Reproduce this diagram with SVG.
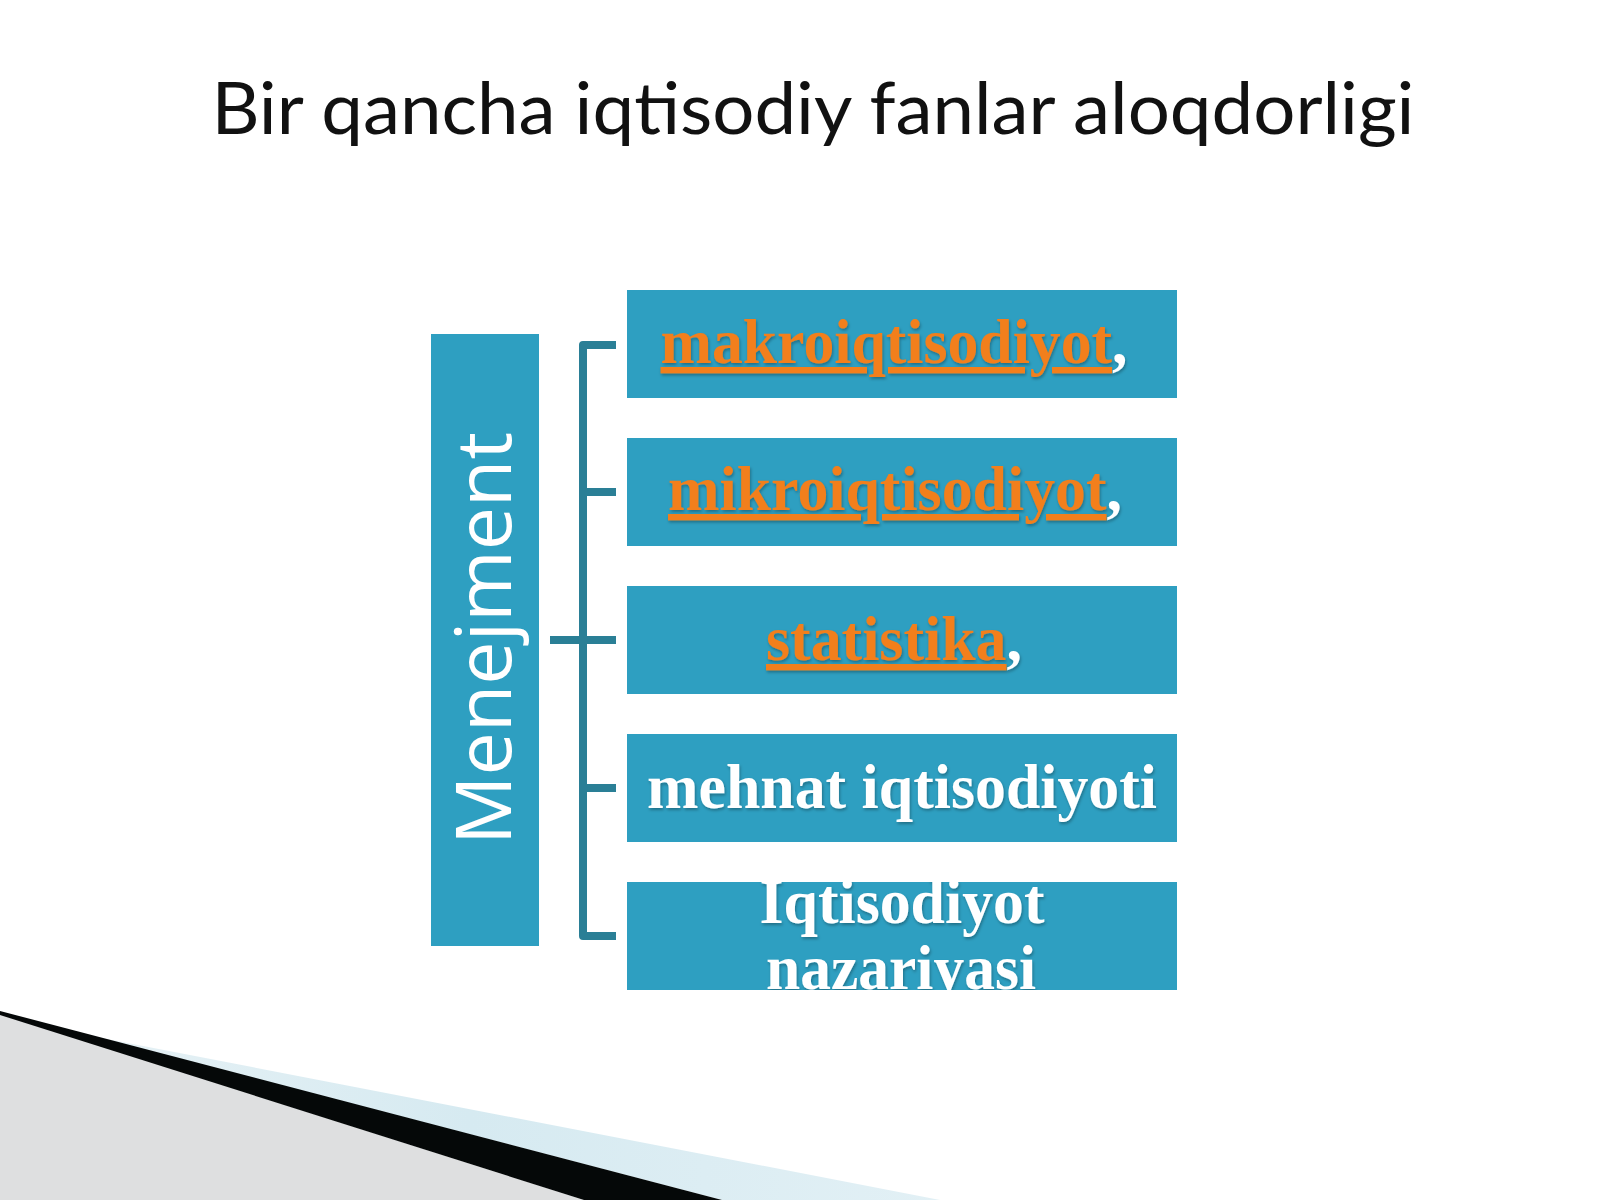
<svg xmlns="http://www.w3.org/2000/svg" width="1600" height="1200" viewBox="0 0 1600 1200">
<style>
.box{fill:#2E9FC1}
.lbl{font-family:"Liberation Serif","Times New Roman",serif;font-weight:bold;font-size:64px;text-anchor:middle;fill:#FFFFFF}
.lnk{fill:#F27F1B;text-decoration:underline}
.conn{fill:none;stroke:#2A7F96;stroke-width:8;stroke-linecap:butt;stroke-linejoin:round}
</style>
<defs>
<filter id="sh" x="-5%" y="-20%" width="110%" height="140%">
<feDropShadow dx="1" dy="2" stdDeviation="1.5" flood-color="#000" flood-opacity="0.3"/>
</filter>
<clipPath id="c5"><rect x="627" y="882" width="550" height="108"/></clipPath>
<linearGradient id="lb" x1="0" y1="0" x2="1" y2="0">
<stop offset="0" stop-color="#EAF3F6"/>
<stop offset="0.5" stop-color="#D6EAF1"/>
<stop offset="1" stop-color="#E2F0F5"/>
</linearGradient>
</defs>
<rect width="1600" height="1200" fill="#FFFFFF"/>

<!-- bottom decoration -->
<polygon points="60,1030 940,1200 722,1200 0,1012" fill="url(#lb)"/>
<polygon points="0,1014 584,1200 0,1200" fill="#DEDFE0"/>
<polygon points="0,1011 722,1200 584,1200 0,1015" fill="#050808"/>

<text x="813" y="134" font-family="Lato,'Open Sans',sans-serif" font-size="72" fill="#111111" text-anchor="middle" textLength="1203" lengthAdjust="spacingAndGlyphs">Bir qancha iqtisodiy fanlar aloqdorligi</text>

<g id="connectors">
<path class="conn" d="M616 345 H583 V936 H616"/>
<path class="conn" d="M583 492 H616"/>
<path class="conn" d="M550 640 H616"/>
<path class="conn" d="M583 788 H616"/>
</g>

<g id="menejment">
<rect class="box" x="431" y="334" width="108" height="612"/>
<text transform="translate(511,638.5) rotate(-90)" x="0" y="0" font-family="'Open Sans',sans-serif" font-size="76" fill="#FFFFFF" text-anchor="middle" textLength="413" lengthAdjust="spacingAndGlyphs">Menejment</text>
</g>

<g id="n1">
<rect class="box" x="627" y="290" width="550" height="108"/>
<text class="lbl" x="894" y="363" textLength="467" lengthAdjust="spacingAndGlyphs" filter="url(#sh)"><tspan class="lnk">makroiqtisodiyot</tspan>,</text>
</g>
<g id="n2">
<rect class="box" x="627" y="438" width="550" height="108"/>
<text class="lbl" x="895" y="510" textLength="454" lengthAdjust="spacingAndGlyphs" filter="url(#sh)"><tspan class="lnk">mikroiqtisodiyot</tspan>,</text>
</g>
<g id="n3">
<rect class="box" x="627" y="586" width="550" height="108"/>
<text class="lbl" x="894" y="660" textLength="256" lengthAdjust="spacingAndGlyphs" filter="url(#sh)"><tspan class="lnk">statistika</tspan>,</text>
</g>
<g id="n4">
<rect class="box" x="627" y="734" width="550" height="108"/>
<text class="lbl" x="902" y="808" textLength="510" lengthAdjust="spacingAndGlyphs" filter="url(#sh)">mehnat iqtisodiyoti</text>
</g>
<g id="n5">
<rect class="box" x="627" y="882" width="550" height="108"/>
<g clip-path="url(#c5)">
<text class="lbl" x="902" y="923" textLength="285" lengthAdjust="spacingAndGlyphs" filter="url(#sh)">Iqtisodiyot</text>
<text class="lbl" x="901" y="989" textLength="270" lengthAdjust="spacingAndGlyphs" filter="url(#sh)">nazariyasi</text>
</g>
</g>
</svg>
